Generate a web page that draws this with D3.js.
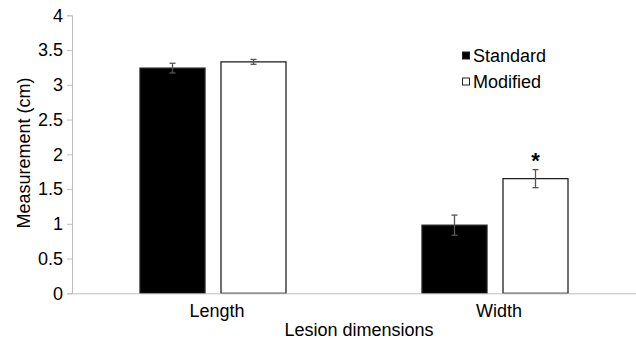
<!DOCTYPE html>
<html>
<head>
<meta charset="utf-8">
<script src="https://cdn.jsdelivr.net/npm/d3@7"></script>
<style>
  body { margin: 0; background: #fff; }
  text { font-family: "Liberation Sans", Arial, sans-serif; fill: #000; }
</style>
</head>
<body>
<div id="chart"></div>
<script>
// chart values
const categories = ["Length", "Width"];
const seriesNames = ["Standard", "Modified"];
const standardValues = [3.24, 0.98];
const standardErrors = [0.07, 0.145];
const modifiedValues = [3.33, 1.65];
const modifiedErrors = [0.035, 0.13];
const significant = [false, true]; // asterisk over Modified
const yTicks = [0, 0.5, 1, 1.5, 2, 2.5, 3, 3.5, 4];
const yTickLabels = ["0", "0.5", "1", "1.5", "2", "2.5", "3", "3.5", "4"];

const width = 636, height = 341;
const margin = {top: 15, right: 0, bottom: 48, left: 72};

const svg = d3.select("#chart")
  .append("svg")
  .attr("width", width)
  .attr("height", height);

// table built from arrays
const rows = categories.map((c, i) => ({
  category: c,
  bars: [
    {series: "Standard", value: standardValues[i], err: standardErrors[i], fill: "#000"},
    {series: "Modified", value: modifiedValues[i], err: modifiedErrors[i], fill: "#fff"}
  ],
  star: significant[i]
}));

// scales
const scaleX = d3.scaleBand()
  .domain(categories)
  .range([margin.left, width]);

const scaleSeries = d3.scaleBand()
  .domain(seriesNames)
  .range([-73, 73])
  .paddingInner(0.1975);

const scaleY = d3.scaleLinear()
  .domain([0, 4])
  .range([293.3, 15.3]);

// y axis
const yAxis = svg.append("g")
  .attr("transform", `translate(${margin.left},0)`)
  .call(d3.axisLeft(scaleY).tickValues(yTicks).tickFormat((d, i) => yTickLabels[i]).tickSizeOuter(0).tickSize(5).tickPadding(4));
yAxis.select(".domain").attr("stroke", "#bfbfbf");
yAxis.selectAll(".tick line").attr("stroke", "#bfbfbf");
yAxis.selectAll(".tick text")
  .style("font-family", "Liberation Sans, Arial, sans-serif")
  .style("font-size", "18px")
  .attr("fill", "#000");

// bars
const groups = svg.append("g")
  .selectAll("g")
  .data(rows)
  .join("g")
    .attr("transform", d => `translate(${scaleX(d.category) + scaleX.bandwidth() / 2},0)`);

groups.selectAll("rect")
  .data(d => d.bars)
  .join("rect")
    .attr("x", d => scaleSeries(d.series))
    .attr("y", d => scaleY(d.value))
    .attr("width", scaleSeries.bandwidth())
    .attr("height", d => scaleY(0) - scaleY(d.value))
    .attr("fill", d => d.fill)
    .attr("stroke", "#222")
    .attr("stroke-width", 1.3);

// error bars
const eb = groups.selectAll("g.err")
  .data(d => d.bars)
  .join("g")
    .attr("class", "err")
    .attr("stroke", "#555")
    .attr("stroke-width", 1.3);
const cx = d => scaleSeries(d.series) + scaleSeries.bandwidth() / 2;
eb.append("line")
  .attr("x1", cx).attr("x2", cx)
  .attr("y1", d => scaleY(d.value + d.err))
  .attr("y2", d => scaleY(d.value - d.err));
eb.append("line")
  .attr("x1", d => cx(d) - 3).attr("x2", d => cx(d) + 3)
  .attr("y1", d => scaleY(d.value + d.err))
  .attr("y2", d => scaleY(d.value + d.err));
eb.append("line")
  .attr("x1", d => cx(d) - 3).attr("x2", d => cx(d) + 3)
  .attr("y1", d => scaleY(d.value - d.err))
  .attr("y2", d => scaleY(d.value - d.err));

// significance asterisk
groups.filter(d => d.star)
  .append("text")
    .attr("x", d => scaleSeries("Modified") + scaleSeries.bandwidth() / 2)
    .attr("y", d => scaleY(d.bars[1].value + d.bars[1].err) - 2)
    .attr("text-anchor", "middle")
    .style("font-size", "22px")
    .style("font-weight", "bold")
    .text("*");

// x axis
const xAxis = svg.append("g")
  .attr("transform", `translate(0,${scaleY(0)})`)
  .call(d3.axisBottom(scaleX).tickSize(0).tickSizeOuter(0).tickPadding(11));
xAxis.select(".domain").attr("stroke", "#bfbfbf");
xAxis.selectAll(".tick text")
  .style("font-family", "Liberation Sans, Arial, sans-serif")
  .style("font-size", "18px")
  .attr("fill", "#000")
  .attr("dx", 4);

// axis titles
svg.append("text")
  .attr("x", 359)
  .attr("y", 336)
  .attr("text-anchor", "middle")
  .style("font-size", "18px")
  .text("Lesion dimensions");

svg.append("text")
  .attr("transform", "translate(30,153) rotate(-90)")
  .attr("text-anchor", "middle")
  .style("font-size", "18px")
  .text("Measurement (cm)");

// legend
const legend = svg.append("g")
  .attr("transform", "translate(462,50)");
const li = legend.selectAll("g")
  .data(rows[0].bars)
  .join("g")
    .attr("transform", (d, i) => `translate(0,${i * 26})`);
li.append("rect")
  .attr("x", 0.5).attr("y", 2)
  .attr("width", 7).attr("height", 7)
  .attr("fill", d => d.fill)
  .attr("stroke", "#222")
  .attr("stroke-width", 1);
li.append("text")
  .attr("x", 11)
  .attr("y", 12)
  .style("font-size", "18px")
  .text(d => d.series);
</script>
</body>
</html>
